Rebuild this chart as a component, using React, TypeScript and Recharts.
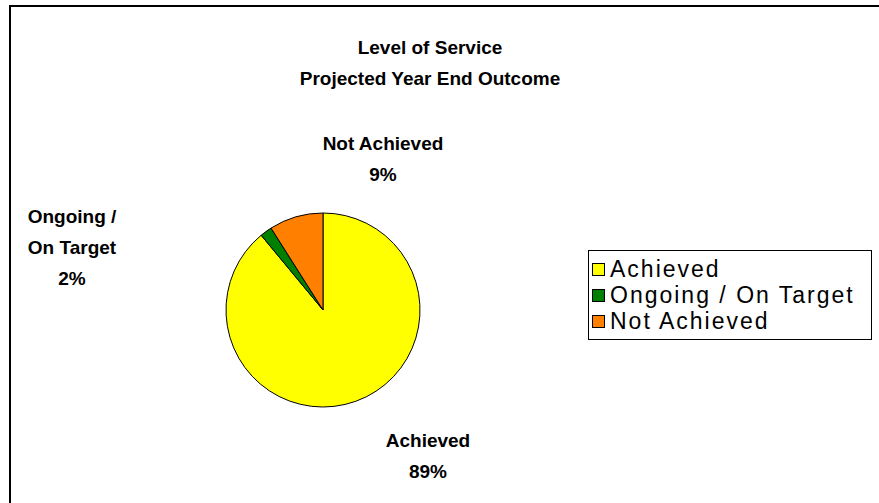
import React from "react";
import { PieChart, Pie, Cell, Legend } from "recharts";

const categories = ["Achieved", "Ongoing / On Target", "Not Achieved"];
const shares = [89, 2, 9];
const labelLines = [["Achieved"], ["Ongoing /", "On Target"], ["Not Achieved"]];

const COLORS = ["#FFFF00", "#008000", "#FF8000"];
const FONT = "'Liberation Sans', Arial, sans-serif";

// label anchor offsets from the pie centre (first line, middle)
const LABEL_OFFSETS: Record<string, [number, number]> = {
  Achieved: [105, 130],
  "Ongoing / On Target": [-251, -94],
  "Not Achieved": [60, -167],
};

const data = categories.map((name, i) => ({ name, value: shares[i], lines: labelLines[i] }));

function renderLabel(props: any) {
  const { cx, cy, payload, percent } = props;
  const off = LABEL_OFFSETS[payload.name];
  if (!off) return null;
  const x = cx + off[0];
  const y = cy + off[1];
  const lines: string[] = [...payload.lines, `${Math.round(percent * 100)}%`];
  return (
    <text
      x={x}
      y={y}
      textAnchor="middle"
      dominantBaseline="central"
      fontFamily={FONT}
      fontWeight="bold"
      fontSize={19}
      fill="#000"
    >
      {lines.map((l, i) => (
        <tspan key={i} x={x} dy={i === 0 ? 0 : 31}>
          {l}
        </tspan>
      ))}
    </text>
  );
}

function LegendBox() {
  return (
    <div
      style={{
        border: "1px solid #000",
        background: "#fff",
        padding: "5px 16px 5px 3px",
        fontFamily: FONT,
        fontSize: 23,
        letterSpacing: 2,
        lineHeight: "26px",
      }}
    >
      {categories.map((c, i) => (
        <div key={c} style={{ display: "flex", alignItems: "center", whiteSpace: "nowrap" }}>
          <span
            style={{
              display: "inline-block",
              width: 11,
              height: 11,
              background: COLORS[i],
              border: "1px solid #000",
              marginRight: 5,
            }}
          />
          {c}
        </div>
      ))}
    </div>
  );
}

export default function App() {
  return (
    <div style={{ position: "absolute", left: 0, top: 0, width: 879, height: 503, background: "#fff", overflow: "hidden" }}>
      <div
        style={{
          position: "absolute",
          left: 0,
          width: 860,
          top: 32,
          textAlign: "center",
          fontFamily: FONT,
          fontWeight: "bold",
          fontSize: 19,
          lineHeight: "31px",
        }}
      >
        <div>Level of Service</div>
        <div>Projected Year End Outcome</div>
      </div>
      <div style={{ position: "absolute", left: 0, top: 0 }}>
        <PieChart width={879} height={503} margin={{ top: 0, right: 0, bottom: 0, left: 0 }}>
          <Pie
            data={data}
            dataKey="value"
            nameKey="name"
            cx={323}
            cy={310}
            outerRadius={97}
            startAngle={90}
            endAngle={-270}
            stroke="#000"
            strokeWidth={1}
            label={renderLabel}
            labelLine={false}
            isAnimationActive={false}
          >
            {data.map((d, i) => (
              <Cell key={d.name} fill={COLORS[i]} />
            ))}
          </Pie>
          <Legend
            content={<LegendBox />}
            layout="vertical"
            wrapperStyle={{ position: "absolute", left: 588, top: 250, width: "auto" }}
          />
        </PieChart>
      </div>
      <div
        style={{
          position: "absolute",
          left: 9,
          top: 5,
          width: 900,
          height: 520,
          borderLeft: "2px solid #000",
          borderTop: "2px solid #000",
          boxSizing: "border-box",
          pointerEvents: "none",
        }}
      />
    </div>
  );
}
